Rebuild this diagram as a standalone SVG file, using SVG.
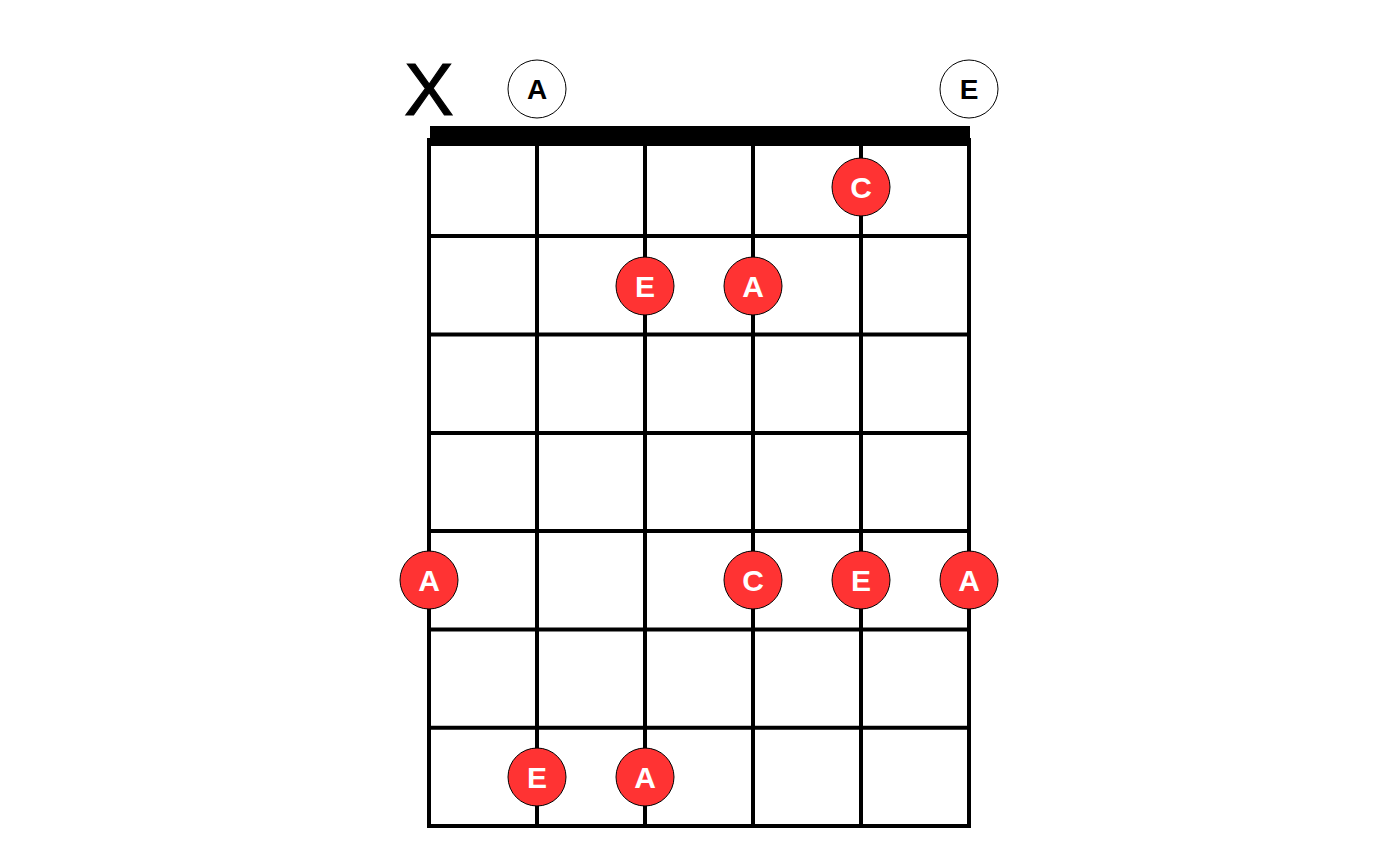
<svg xmlns="http://www.w3.org/2000/svg" width="1400" height="865" viewBox="0 0 1400 865">
<style>
.str{stroke:#000;stroke-width:4;fill:none}
.dot{fill:#FF3333;stroke:#000;stroke-width:1}
.open{fill:#fff;stroke:#000;stroke-width:1}
.lw{font-family:"Liberation Sans",Arial,sans-serif;font-weight:bold;font-size:30px;fill:#fff;text-anchor:middle}
.lb{font-family:"Liberation Sans",Arial,sans-serif;font-weight:bold;font-size:28px;fill:#000;text-anchor:middle}
</style>
<rect width="1400" height="865" fill="#fff"/>
<g id="grid">
<rect x="430" y="126" width="540" height="20" fill="#000"/>
<line class="str" x1="429" y1="138" x2="429" y2="826"/>
<line class="str" x1="537" y1="138" x2="537" y2="826"/>
<line class="str" x1="645" y1="138" x2="645" y2="826"/>
<line class="str" x1="753" y1="138" x2="753" y2="826"/>
<line class="str" x1="861" y1="138" x2="861" y2="826"/>
<line class="str" x1="969" y1="138" x2="969" y2="826"/>
<line class="str" x1="429" y1="236" x2="969" y2="236"/>
<line class="str" x1="429" y1="334.6" x2="969" y2="334.6"/>
<line class="str" x1="429" y1="432.9" x2="969" y2="432.9"/>
<line class="str" x1="429" y1="531.1" x2="969" y2="531.1"/>
<line class="str" x1="429" y1="629.4" x2="969" y2="629.4"/>
<line class="str" x1="429" y1="727.7" x2="969" y2="727.7"/>
<line class="str" x1="427" y1="826" x2="971" y2="826"/>
</g>
<g id="mute"><text x="429" y="115" font-family="Liberation Sans,Arial,sans-serif" font-size="74" text-anchor="middle" stroke="#000" stroke-width="1.2">X</text></g>
<g id="open-A"><circle class="open" cx="537" cy="89" r="29"/><text class="lb" x="537" y="99">A</text></g>
<g id="open-E"><circle class="open" cx="969" cy="89" r="29"/><text class="lb" x="969" y="99">E</text></g>
<g id="n1"><circle class="dot" cx="861" cy="187" r="29"/><text class="lw" x="861" y="198">C</text></g>
<g id="n2"><circle class="dot" cx="645" cy="286" r="29"/><text class="lw" x="645" y="297">E</text></g>
<g id="n3"><circle class="dot" cx="753" cy="286" r="29"/><text class="lw" x="753" y="297">A</text></g>
<g id="n4"><circle class="dot" cx="429" cy="580" r="29"/><text class="lw" x="429" y="591">A</text></g>
<g id="n5"><circle class="dot" cx="753" cy="580" r="29"/><text class="lw" x="753" y="591">C</text></g>
<g id="n6"><circle class="dot" cx="861" cy="580" r="29"/><text class="lw" x="861" y="591">E</text></g>
<g id="n7"><circle class="dot" cx="969" cy="580" r="29"/><text class="lw" x="969" y="591">A</text></g>
<g id="n8"><circle class="dot" cx="537" cy="777" r="29"/><text class="lw" x="537" y="788">E</text></g>
<g id="n9"><circle class="dot" cx="645" cy="777" r="29"/><text class="lw" x="645" y="788">A</text></g>
</svg>
